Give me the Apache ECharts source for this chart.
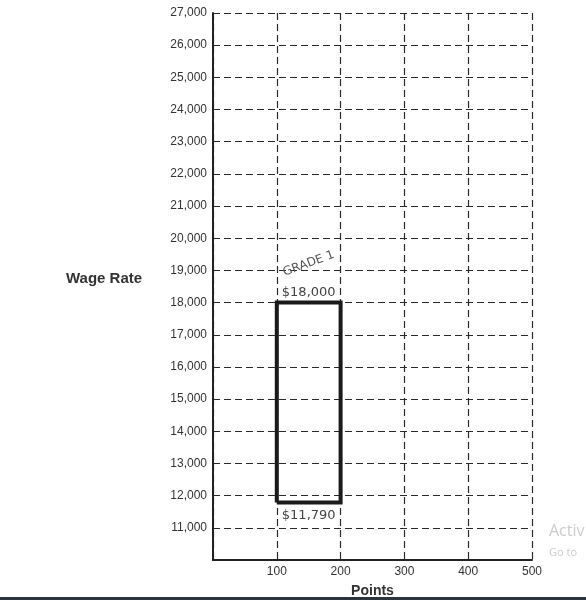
<!DOCTYPE html>
<html><head><meta charset="utf-8">
<script src="https://cdn.jsdelivr.net/npm/echarts@6/dist/echarts.min.js"></script>
<style>html,body{margin:0;padding:0;background:#fff}#c{width:586px;height:600px}</style>
</head><body><div id="c"></div>
<script>
const xTicks = [0, 100, 200, 300, 400, 500];
const yMin = 10000, yMax = 27000, yStep = 1000;
const gradeX = [100, 100, 200, 200, 100];
const gradeY = [11790, 18000, 18000, 11790, 11790];
const gradeName = 'GRADE 1';
const maxLabel = '$18,000';
const minLabel = '$11,790';

const chart = echarts.init(document.getElementById('c'));
const rectData = gradeX.map((x, i) => [x, gradeY[i]]);
chart.setOption({
  animation: false,
  grid: {left: 213, right: 54, top: 13, bottom: 40, containLabel: false, outerBoundsMode: 'none'},
  xAxis: {
    type: 'value', min: xTicks[0], max: xTicks[xTicks.length - 1], interval: 100,
    name: 'Points', nameLocation: 'middle', nameGap: 24,
    nameTextStyle: {fontFamily: 'Liberation Sans', fontWeight: 'bold', fontSize: 14, color: '#333'},
    axisLine: {show: true, lineStyle: {color: '#222', width: 2}},
    axisTick: {show: false},
    axisLabel: {fontFamily: 'Liberation Sans', fontSize: 12, color: '#333', margin: 6,
      formatter: v => v === 0 ? '' : String(v)},
    splitLine: {show: true, lineStyle: {color: '#2a2a2a', type: [7, 4], width: 1.2}}
  },
  yAxis: {
    type: 'value', min: yMin, max: yMax, interval: yStep,
    axisLine: {show: true, lineStyle: {color: '#222', width: 2}},
    axisTick: {show: false},
    axisLabel: {fontFamily: 'Liberation Sans', fontSize: 12, color: '#333', margin: 6,
      formatter: v => v === yMin ? '' : v.toLocaleString('en-US')},
    splitLine: {show: true, lineStyle: {color: '#2a2a2a', type: [7, 4], width: 1.2}}
  },
  graphic: [
    {type: 'text', left: 66, top: 271, style: {text: 'Wage Rate', font: 'bold 15px "Liberation Sans"', fill: '#333'}},
    {type: 'text', left: 549, top: 523, style: {text: 'Activ', font: '16px "Open Sans"', fill: '#ccc'}},
    {type: 'text', left: 549, top: 547, style: {text: 'Go to', font: '11px "Open Sans"', fill: '#ccc'}},
    {type: 'rect', left: 0, top: 597, z: 100, shape: {width: 586, height: 3}, style: {fill: '#2b3440'}}
  ],
  series: [{
    type: 'line', data: rectData, symbol: 'none',
    lineStyle: {color: '#1a1a1a', width: 4, join: 'miter'},
    markPoint: {
      symbol: 'rect', symbolSize: 1, itemStyle: {color: 'transparent'},
      data: [
        {coord: [150, gradeY[1]], label: {show: true, formatter: maxLabel, position: 'top', distance: 3,
          fontFamily: 'DejaVu Sans', fontSize: 13, color: '#444'}},
        {coord: [150, gradeY[0]], label: {show: true, formatter: minLabel, position: 'bottom', distance: 6,
          fontFamily: 'DejaVu Sans', fontSize: 13, color: '#444'}},
        {coord: [150, 19210], label: {show: true, formatter: gradeName, position: 'inside', rotate: 20,
          fontFamily: 'DejaVu Sans', fontSize: 12, color: '#555'}}
      ]
    }
  }]
});
</script></body></html>
